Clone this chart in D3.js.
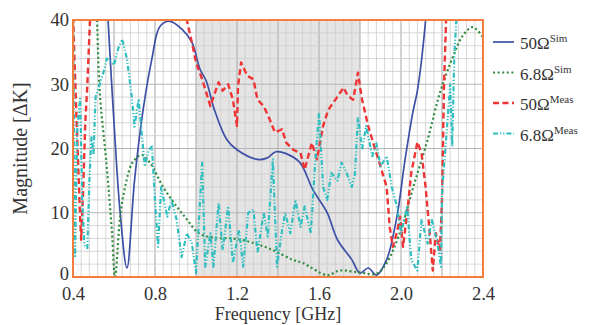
<!DOCTYPE html>
<html>
<head>
<meta charset="utf-8">
<script src="https://cdn.jsdelivr.net/npm/d3@7"></script>
<style>
  body { margin: 0; background: #fff; }
  text { font-family: "Liberation Serif", "DejaVu Serif", serif; fill: #333; }
</style>
</head>
<body>
<div id="chart"></div>
<script>
// ---- data ----
const xTicks = [0.4, 0.8, 1.2, 1.6, 2.0, 2.4];
const yTicks = [0, 10, 20, 30, 40];
const band = [1.0, 1.8];

const sim50 = [
  [0.55, 52], [0.571, 40], [0.60, 24], [0.63, 10], [0.663, 1.4], [0.70, 15], [0.742, 26],
  [0.785, 34], [0.824, 39], [0.873, 39.8], [0.93, 38.6], [0.98, 36.5], [1.02, 32.3],
  [1.05, 30.5], [1.09, 26], [1.15, 21.4], [1.2, 19.8], [1.3, 18.3], [1.345, 18.5],
  [1.39, 19.5], [1.44, 19.2], [1.507, 17.8], [1.57, 13.6], [1.64, 10], [1.69, 5.8],
  [1.76, 2.7], [1.80, 0.6], [1.84, 1.4], [1.88, 0.3], [1.93, 2.7], [1.98, 9.4],
  [2.02, 18.3], [2.06, 26], [2.08, 29], [2.12, 40], [2.14, 50]
];

const sim68 = [
  [0.50, 50], [0.517, 40], [0.53, 29], [0.565, 17], [0.59, 7], [0.605, 0], [0.63, 9.4],
  [0.654, 14], [0.69, 17.8], [0.735, 19], [0.775, 17.8], [0.84, 14], [0.905, 11],
  [0.955, 9], [1.01, 6.9], [1.085, 6.1], [1.18, 6], [1.28, 5.3], [1.375, 4.2],
  [1.47, 2.7], [1.52, 2.2], [1.64, 0.3], [1.70, 1], [1.80, 0.7], [1.88, 0.5],
  [1.93, 2.2], [1.995, 6.9], [2.06, 14], [2.13, 21.4], [2.19, 28.7], [2.255, 34.4],
  [2.30, 37.5], [2.35, 38.9], [2.40, 37.3]
];

const meas50 = [
  [0.40, 42], [0.405, 36], [0.42, 22], [0.435, 9], [0.44, 5.8], [0.45, 14], [0.46, 24],
  [0.47, 30], [0.483, 40], [0.49, 48], [0.94, 48], [0.955, 40], [0.98, 36.5], [1.0, 33.4],
  [1.03, 30.8], [1.05, 28.7], [1.07, 26.6], [1.085, 28], [1.11, 30.3], [1.13, 29],
  [1.157, 30], [1.18, 27.6], [1.20, 23.5], [1.205, 29.7], [1.22, 33.4], [1.25, 31.3],
  [1.28, 30.8], [1.30, 27.6], [1.33, 26.6], [1.36, 24.5], [1.385, 22.5], [1.42, 23],
  [1.44, 20.9], [1.475, 19.8], [1.51, 19.3], [1.53, 16.7], [1.565, 20.9], [1.59, 18.3],
  [1.62, 23.5], [1.645, 26], [1.68, 27.6], [1.72, 29.5], [1.74, 28.2], [1.767, 27.6],
  [1.79, 31.8], [1.81, 27.6], [1.84, 23.5], [1.87, 20.3], [1.90, 17.2], [1.93, 14],
  [1.945, 7.8], [1.96, 4.7], [1.98, 6.9], [1.995, 9.4], [2.01, 4.7], [2.03, 10],
  [2.05, 16.2], [2.08, 21], [2.10, 19.3], [2.12, 14], [2.14, 6.9], [2.155, 1],
  [2.17, 6.8], [2.19, 4.2], [2.20, 12], [2.21, 30], [2.22, 40], [2.23, 50]
];

const meas68 = [
  [0.40, 42], [0.41, 3], [0.42, 22.5], [0.435, 28], [0.445, 12], [0.455, 5], [0.47, 4.5],
  [0.48, 15], [0.49, 22], [0.50, 19], [0.51, 28], [0.53, 30], [0.55, 32], [0.565, 34],
  [0.60, 33], [0.62, 35.5], [0.64, 37], [0.663, 34], [0.687, 28], [0.70, 23.4],
  [0.72, 27.7], [0.735, 22.5], [0.75, 17.2], [0.77, 19.8], [0.785, 20.3], [0.80, 12],
  [0.815, 4.7], [0.83, 14], [0.86, 9.4], [0.88, 12], [0.905, 9], [0.93, 3.1],
  [0.955, 6.8], [0.98, 5.2], [1.0, 0.6], [1.03, 17.8], [1.045, 1.6], [1.07, 6.8],
  [1.085, 1.6], [1.11, 11.5], [1.13, 4.2], [1.157, 11], [1.18, 2.2], [1.21, 7.3],
  [1.23, 1.6], [1.255, 10], [1.28, 10.5], [1.30, 3.7], [1.33, 10], [1.35, 6.3],
  [1.375, 18.3], [1.395, 1.6], [1.42, 7.3], [1.435, 10], [1.46, 6.8], [1.485, 12],
  [1.51, 7.8], [1.53, 11], [1.56, 6.8], [1.58, 17.2], [1.60, 25.6], [1.62, 14],
  [1.64, 12], [1.66, 16.2], [1.69, 15], [1.71, 17.8], [1.735, 16.2], [1.76, 14],
  [1.775, 16], [1.79, 25], [1.81, 19.8], [1.83, 23.5], [1.86, 18.8], [1.88, 20.8],
  [1.90, 17.2], [1.93, 18.8], [1.955, 14], [1.98, 11], [2.0, 6.8], [2.03, 11],
  [2.05, 2.7], [2.08, 1], [2.10, 8.9], [2.13, 5.2], [2.15, 8.9], [2.175, 5.8],
  [2.195, 1.6], [2.20, 13], [2.22, 21.4], [2.24, 30], [2.25, 20.3], [2.26, 34.4],
  [2.27, 40], [2.28, 48]
];

const series = [
  { name: "50Ω", sup: "Sim", data: sim50, color: "#3d50a6", dash: null, width: 1.7, smooth: true },
  { name: "6.8Ω", sup: "Sim", data: sim68, color: "#2f8a3c", dash: "2,2.6", width: 2.2, smooth: true },
  { name: "50Ω", sup: "Meas", data: meas50, color: "#ee3434", dash: "6,3.5", width: 2.4, smooth: false },
  { name: "6.8Ω", sup: "Meas", data: meas68, color: "#30bfc0", dash: "5,2,1.2,2,1.2,2", width: 2.2, smooth: false }
];

// ---- layout ----
const W = 593, H = 325;
const m = { left: 73, right: 110, top: 20, bottom: 48 };

const svg = d3.select("#chart").append("svg")
  .attr("width", W).attr("height", H);

const x = d3.scaleLinear().domain([0.4, 2.4]).range([m.left, W - m.right]);
const y = d3.scaleLinear().domain([0, 40]).range([H - m.bottom, m.top]);

svg.append("defs").append("clipPath").attr("id", "plot")
  .append("rect")
  .attr("x", x(0.4)).attr("y", y(40))
  .attr("width", x(2.4) - x(0.4)).attr("height", y(0) - y(40));

// shaded band
svg.append("rect")
  .attr("x", x(band[0])).attr("y", y(40))
  .attr("width", x(band[1]) - x(band[0]))
  .attr("height", y(0) - y(40))
  .attr("fill", "#e4e4e4");

// grid
const minorX = d3.range(0.4, 2.4001, 0.04);
const minorY = d3.range(0, 40.001, 2);
const grid = svg.append("g");
grid.selectAll(".vx").data(minorX).enter().append("line")
  .attr("x1", d => x(d)).attr("x2", d => x(d))
  .attr("y1", y(0)).attr("y2", y(40))
  .attr("stroke", (d, i) => i % 5 === 0 ? "#b4b4b4" : "#cdcdcd")
  .attr("stroke-width", (d, i) => i % 5 === 0 ? 1.2 : 0.8);
grid.selectAll(".hy").data(minorY).enter().append("line")
  .attr("y1", d => y(d)).attr("y2", d => y(d))
  .attr("x1", x(0.4)).attr("x2", x(2.4))
  .attr("stroke", (d, i) => i % 5 === 0 ? "#b4b4b4" : "#cdcdcd")
  .attr("stroke-width", (d, i) => i % 5 === 0 ? 1.2 : 0.8);

// curves
const lines = svg.append("g").attr("clip-path", "url(#plot)");
series.forEach(s => {
  const line = d3.line()
    .x(d => x(d[0])).y(d => y(d[1]))
    .curve(s.smooth ? d3.curveCatmullRom.alpha(0.5) : d3.curveLinear);
  lines.append("path")
    .datum(s.data)
    .attr("d", line)
    .attr("fill", "none")
    .attr("stroke", s.color)
    .attr("stroke-width", s.width)
    .attr("stroke-dasharray", s.dash)
    .attr("stroke-linejoin", "round");
});

// border
svg.append("rect")
  .attr("x", x(0.4)).attr("y", y(40))
  .attr("width", x(2.4) - x(0.4)).attr("height", y(0) - y(40))
  .attr("fill", "none").attr("stroke", "#f27d3c").attr("stroke-width", 2);

// axes
const xAxis = svg.append("g")
  .attr("transform", `translate(0,${y(0)})`)
  .call(d3.axisBottom(x).tickValues(xTicks).tickSize(0).tickPadding(10).tickFormat(d3.format(".1f")));
const yAxis = svg.append("g")
  .attr("transform", `translate(${x(0.4)},0)`)
  .call(d3.axisLeft(y).tickValues(yTicks).tickSize(0).tickPadding(4));
[xAxis, yAxis].forEach(a => {
  a.select(".domain").remove();
  a.selectAll("text").attr("font-size", 18.5).attr("fill", "#333")
    .attr("font-family", "Liberation Serif, serif");
});
yAxis.selectAll("text").filter(d => d === 0).attr("dy", "0.15em");

svg.append("text")
  .attr("x", (x(0.4) + x(2.4)) / 2).attr("y", 320)
  .attr("text-anchor", "middle").attr("font-size", 18)
  .text("Frequency [GHz]");

svg.append("text")
  .attr("transform", `translate(27,${(y(0) + y(40)) / 2}) rotate(-90)`)
  .attr("text-anchor", "middle").attr("font-size", 20)
  .text("Magnitude [ΔK]");

// legend
const lg = svg.append("g").attr("transform", "translate(493,42)");
series.forEach((s, i) => {
  const g = lg.append("g").attr("transform", `translate(0,${i * 30.5})`);
  g.append("line")
    .attr("x1", 0).attr("x2", 21).attr("y1", 0).attr("y2", 0)
    .attr("stroke", s.color).attr("stroke-width", s.width)
    .attr("stroke-dasharray", s.dash);
  const t = g.append("text").attr("x", 27).attr("y", 7).attr("font-size", 17);
  t.append("tspan").text(s.name);
  t.append("tspan").attr("dy", -7).attr("font-size", 11).text(s.sup);
});
</script>
</body>
</html>
